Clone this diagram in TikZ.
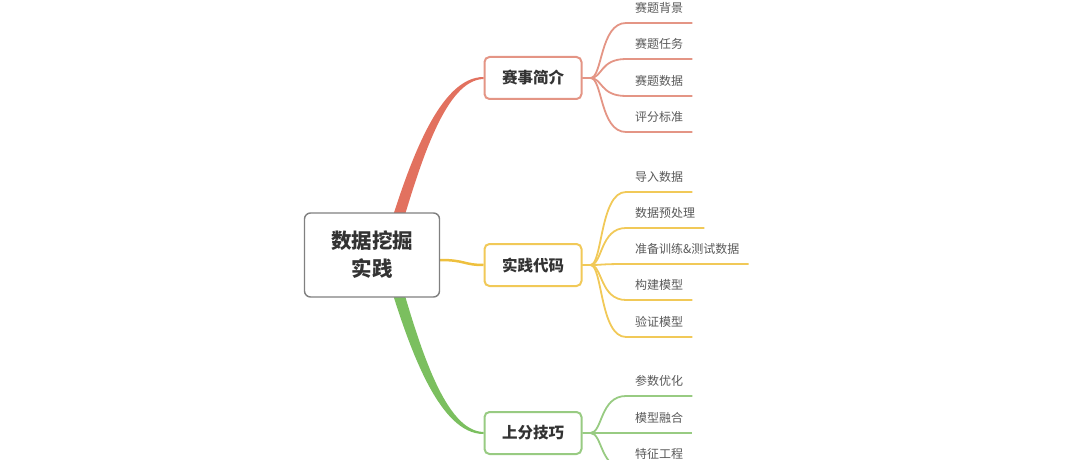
\documentclass[tikz,border=0pt]{standalone}
\usepackage{fontspec}
\setmainfont{Noto Sans CJK SC}
\usepackage{xcolor}
\usetikzlibrary{positioning, calc}

\definecolor{redc}{HTML}{E2715F}
\definecolor{redl}{HTML}{E49585}
\definecolor{yelc}{HTML}{EEC03E}
\definecolor{yell}{HTML}{F1C958}
\definecolor{grnc}{HTML}{7BBF5F}
\definecolor{grnl}{HTML}{98CB82}

\pgfdeclarelayer{background}
\pgfsetlayers{background,main}

\tikzset{
    rootbox/.style={draw=black!50, line width=1.4pt, rounded corners=6pt, fill=white,
        minimum width=135pt, minimum height=84pt, align=center, text=black!80,
        font=\bfseries\fontsize{20.5}{28}\selectfont},
    topicbox/.style={draw=#1, line width=2pt, rounded corners=5pt, fill=white,
        minimum width=97pt, minimum height=42pt, text=black!80,
        font=\bfseries\fontsize{15.5}{18}\selectfont},
    leaf/.style={anchor=south west, inner xsep=9pt, inner ysep=9.5pt, text=black!65,
        font=\fontsize{12}{14}\selectfont},
    twig/.style={draw=#1, line width=1.8pt},
}

\begin{document}
\begin{tikzpicture}[x=1pt, y=-1pt]
        \clip (0,0) rectangle (1080,460);
        % centre and topics
        \node[rootbox] (root) at (372,255) {数据挖掘\\实践};
        \node[topicbox=redl] (intro) at (533,78) {赛事简介};
        \node[topicbox=yell] (code) at (533,265) {实践代码};
        \node[topicbox=grnl] (skill) at (533,433) {上分技巧};
        % main branches
        \begin{pgfonlayer}{background}
            \fill[redc] ($(root.center)+(15,-20)$) .. controls (410,160) and (440,77) .. ([yshift=1pt]intro.west)
                -- ([yshift=-1pt]intro.west) .. controls (446,80) and (421,160) .. ($(root.center)+(27,-20)$) -- cycle;
            \fill[grnc] ($(root.center)+(15,20)$) .. controls (410,352) and (440,434) .. ([yshift=-1pt]skill.west)
                -- ([yshift=1pt]skill.west) .. controls (446,431) and (421,352) .. ($(root.center)+(27,20)$) -- cycle;
            \draw[yelc, line width=2.5pt] ([yshift=-5pt]root.east) .. controls +(25,0) and +(-20,0) .. (code.west);
        \end{pgfonlayer}
        % leaves
        \foreach \txt/\y [count=\i] in {赛题背景/23, 赛题任务/59, 赛题数据/96, 评分标准/132} {
            \node[leaf] (r\i) at (626,\y) {\txt};
            \draw[twig=redl] (intro.east) -- ++(8,0) .. controls +(12,0) and +(-26,0) .. (r\i.south west) -- (r\i.south east);
        }
        \foreach \txt/\y [count=\i] in {导入数据/192, 数据预处理/228, 准备训练\&测试数据/264, 构建模型/300, 验证模型/337} {
            \node[leaf] (y\i) at (626,\y) {\txt};
            \draw[twig=yell] (code.east) -- ++(8,0) .. controls +(12,0) and +(-26,0) .. (y\i.south west) -- (y\i.south east);
        }
        \foreach \txt/\y [count=\i] in {参数优化/396, 模型融合/433, 特征工程/469} {
            \node[leaf] (g\i) at (626,\y) {\txt};
            \draw[twig=grnl] (skill.east) -- ++(8,0) .. controls +(12,0) and +(-26,0) .. (g\i.south west) -- (g\i.south east);
        }
\end{tikzpicture}
\end{document}
